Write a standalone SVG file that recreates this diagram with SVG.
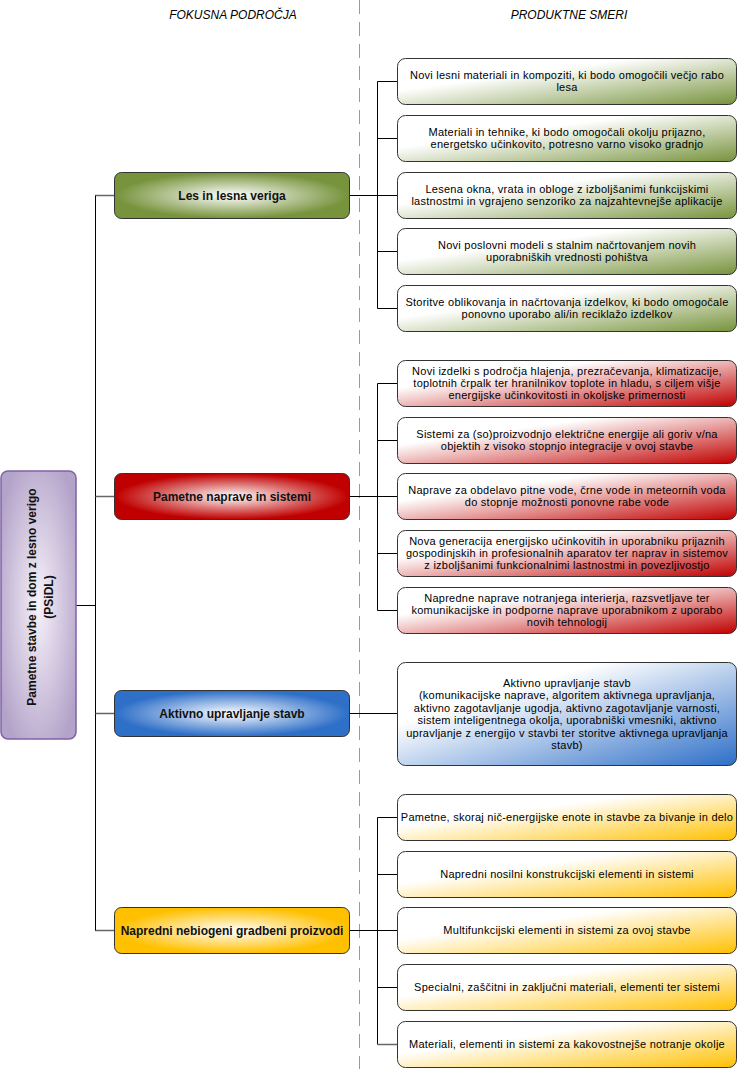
<svg xmlns="http://www.w3.org/2000/svg" width="738" height="1069" viewBox="0 0 738 1069">
<defs>
<radialGradient id="rgGreen" cx="0.5" cy="0.5" r="0.55"><stop offset="0" stop-color="#ffffff"/><stop offset="0.9" stop-color="#77933c"/></radialGradient>
<radialGradient id="rgRed" cx="0.5" cy="0.5" r="0.55"><stop offset="0" stop-color="#ffffff"/><stop offset="0.9" stop-color="#c00000"/></radialGradient>
<radialGradient id="rgBlue" cx="0.5" cy="0.5" r="0.55"><stop offset="0" stop-color="#ffffff"/><stop offset="0.9" stop-color="#2e6fc8"/></radialGradient>
<radialGradient id="rgYellow" cx="0.5" cy="0.5" r="0.55"><stop offset="0" stop-color="#ffffff"/><stop offset="0.9" stop-color="#ffc000"/></radialGradient>
<radialGradient id="rgPurple" cx="0.5" cy="0.5" r="0.6"><stop offset="0" stop-color="#f6f2fa"/><stop offset="1" stop-color="#b4a3c9"/></radialGradient>
<linearGradient id="lgGreen" x1="0" y1="0" x2="1" y2="1"><stop offset="0" stop-color="#ffffff"/><stop offset="0.35" stop-color="#ffffff"/><stop offset="1" stop-color="#77933c"/></linearGradient>
<linearGradient id="lgRed" x1="0" y1="0" x2="1" y2="1"><stop offset="0" stop-color="#ffffff"/><stop offset="0.3" stop-color="#ffffff"/><stop offset="1" stop-color="#c00000"/></linearGradient>
<linearGradient id="lgBlue" x1="0" y1="0" x2="1" y2="1"><stop offset="0" stop-color="#ffffff"/><stop offset="0.3" stop-color="#ffffff"/><stop offset="1" stop-color="#2e6fc8"/></linearGradient>
<linearGradient id="lgYellow" x1="0" y1="0" x2="1" y2="1"><stop offset="0" stop-color="#ffffff"/><stop offset="0.35" stop-color="#ffffff"/><stop offset="1" stop-color="#ffc000"/></linearGradient>
<style>
.hdr{font-family:"Liberation Sans",Arial,sans-serif;font-size:12px;font-style:italic;fill:#000;text-anchor:middle}
.mid{stroke:#333;stroke-width:1}
.box{stroke:#333;stroke-width:1}
.mt{font-family:"Liberation Sans",Arial,sans-serif;font-size:12px;font-weight:bold;fill:#111;text-anchor:middle}
.bt{font-family:"Liberation Sans",Arial,sans-serif;font-size:11px;letter-spacing:0.25px;fill:#000;text-anchor:middle}
.lt{font-family:"Liberation Sans",Arial,sans-serif;font-size:12px;font-weight:bold;fill:#111;text-anchor:middle}
.ln{stroke:#000;stroke-width:1;fill:none}
.lg{stroke:#666;stroke-width:1.5;fill:none}
.dash{stroke:#999;stroke-width:1;stroke-dasharray:14 8;fill:none}
</style>
</defs>
<rect width="738" height="1069" fill="#fff"/>
<g id="headers">
<text class="hdr" x="233" y="19">FOKUSNA PODROČJA</text>
<text class="hdr" x="569" y="19">PRODUKTNE SMERI</text>
<line class="dash" x1="359.5" y1="0" x2="359.5" y2="1069"/>
</g>
<g id="connectors">
<line class="ln" x1="76" y1="605.5" x2="95.5" y2="605.5"/>
<line class="ln" x1="95.5" y1="195" x2="95.5" y2="931"/>
<line class="lg" x1="95.5" y1="195.5" x2="114" y2="195.5"/>
<line class="lg" x1="95.5" y1="496.5" x2="114" y2="496.5"/>
<line class="lg" x1="95.5" y1="713.5" x2="114" y2="713.5"/>
<line class="lg" x1="95.5" y1="930.5" x2="114" y2="930.5"/>
<line class="ln" x1="350" y1="195.5" x2="377.5" y2="195.5"/>
<line class="ln" x1="377.5" y1="81.5" x2="377.5" y2="308.5"/>
<line class="ln" x1="377.5" y1="81.5" x2="397" y2="81.5"/>
<line class="ln" x1="377.5" y1="138.5" x2="397" y2="138.5"/>
<line class="ln" x1="377.5" y1="195.5" x2="397" y2="195.5"/>
<line class="ln" x1="377.5" y1="251.5" x2="397" y2="251.5"/>
<line class="ln" x1="377.5" y1="308.5" x2="397" y2="308.5"/>
<line class="ln" x1="350" y1="496.5" x2="377.5" y2="496.5"/>
<line class="ln" x1="377.5" y1="383.5" x2="377.5" y2="610.5"/>
<line class="ln" x1="377.5" y1="383.5" x2="397" y2="383.5"/>
<line class="ln" x1="377.5" y1="440.5" x2="397" y2="440.5"/>
<line class="ln" x1="377.5" y1="496.5" x2="397" y2="496.5"/>
<line class="ln" x1="377.5" y1="553.5" x2="397" y2="553.5"/>
<line class="ln" x1="377.5" y1="610.5" x2="397" y2="610.5"/>
<line class="ln" x1="350" y1="713.5" x2="397" y2="713.5"/>
<line class="ln" x1="350" y1="930.5" x2="377.5" y2="930.5"/>
<line class="ln" x1="377.5" y1="817.5" x2="377.5" y2="1044.5"/>
<line class="ln" x1="377.5" y1="817.5" x2="397" y2="817.5"/>
<line class="ln" x1="377.5" y1="874.5" x2="397" y2="874.5"/>
<line class="ln" x1="377.5" y1="930.5" x2="397" y2="930.5"/>
<line class="ln" x1="377.5" y1="987.5" x2="397" y2="987.5"/>
<line class="lg" x1="377.5" y1="1044.5" x2="397" y2="1044.5"/>
</g>
<g id="root">
<rect x="1" y="471" width="75" height="268" rx="7" fill="url(#rgPurple)" stroke="#8062a6" stroke-width="1.5"/>
<text class="lt" transform="translate(36,597) rotate(-90)">Pametne stavbe in dom z lesno verigo</text>
<text class="lt" transform="translate(53,597) rotate(-90)">(PSiDL)</text>
</g>
<g id="area-les">
<rect class="mid" x="114.5" y="172.5" width="235" height="46" rx="7" fill="url(#rgGreen)"/>
<text class="mt" x="232" y="199.8">Les in lesna veriga</text>
</g>
<g id="area-naprave">
<rect class="mid" x="114.5" y="473.5" width="235" height="46" rx="7" fill="url(#rgRed)"/>
<text class="mt" x="232" y="500.8">Pametne naprave in sistemi</text>
</g>
<g id="area-aktivno">
<rect class="mid" x="114.5" y="690.5" width="235" height="46" rx="7" fill="url(#rgBlue)"/>
<text class="mt" x="232" y="717.8">Aktivno upravljanje stavb</text>
</g>
<g id="area-napredni">
<rect class="mid" x="114.5" y="907.5" width="235" height="46" rx="7" fill="url(#rgYellow)"/>
<text class="mt" x="232" y="934.8">Napredni nebiogeni gradbeni proizvodi</text>
</g>
<g id="g1">
<rect class="box" x="397.5" y="58.5" width="339" height="46" rx="8" fill="url(#lgGreen)"/>
<text class="bt" x="567" y="79.3">Novi lesni materiali in kompoziti, ki bodo omogočili večjo rabo</text>
<text class="bt" x="567" y="91.3">lesa</text>
</g>
<g id="g2">
<rect class="box" x="397.5" y="115.5" width="339" height="46" rx="8" fill="url(#lgGreen)"/>
<text class="bt" x="567" y="136.3">Materiali in tehnike, ki bodo omogočali okolju prijazno,</text>
<text class="bt" x="567" y="148.3">energetsko učinkovito, potresno varno visoko gradnjo</text>
</g>
<g id="g3">
<rect class="box" x="397.5" y="172.5" width="339" height="46" rx="8" fill="url(#lgGreen)"/>
<text class="bt" x="567" y="193.3">Lesena okna, vrata in obloge z izboljšanimi funkcijskimi</text>
<text class="bt" x="567" y="205.3">lastnostmi in vgrajeno senzoriko za najzahtevnejše aplikacije</text>
</g>
<g id="g4">
<rect class="box" x="397.5" y="228.5" width="339" height="46" rx="8" fill="url(#lgGreen)"/>
<text class="bt" x="567" y="249.3">Novi poslovni modeli s stalnim načrtovanjem novih</text>
<text class="bt" x="567" y="261.3">uporabniških vrednosti pohištva</text>
</g>
<g id="g5">
<rect class="box" x="397.5" y="285.5" width="339" height="46" rx="8" fill="url(#lgGreen)"/>
<text class="bt" x="567" y="306.3">Storitve oblikovanja in načrtovanja izdelkov, ki bodo omogočale</text>
<text class="bt" x="567" y="318.3">ponovno uporabo ali/in reciklažo izdelkov</text>
</g>
<g id="r1">
<rect class="box" x="397.5" y="360.5" width="339" height="46" rx="8" fill="url(#lgRed)"/>
<text class="bt" x="567" y="375.3">Novi izdelki s področja hlajenja, prezračevanja, klimatizacije,</text>
<text class="bt" x="567" y="387.3">toplotnih črpalk ter hranilnikov toplote in hladu, s ciljem višje</text>
<text class="bt" x="567" y="399.3">energijske učinkovitosti in okoljske primernosti</text>
</g>
<g id="r2">
<rect class="box" x="397.5" y="417.5" width="339" height="46" rx="8" fill="url(#lgRed)"/>
<text class="bt" x="567" y="438.3">Sistemi za (so)proizvodnjo električne energije ali goriv v/na</text>
<text class="bt" x="567" y="450.3">objektih z visoko stopnjo integracije v ovoj stavbe</text>
</g>
<g id="r3">
<rect class="box" x="397.5" y="473.5" width="339" height="46" rx="8" fill="url(#lgRed)"/>
<text class="bt" x="567" y="494.3">Naprave za obdelavo pitne vode, črne vode in meteornih voda</text>
<text class="bt" x="567" y="506.3">do stopnje možnosti ponovne rabe vode</text>
</g>
<g id="r4">
<rect class="box" x="397.5" y="530.5" width="339" height="46" rx="8" fill="url(#lgRed)"/>
<text class="bt" x="567" y="545.3">Nova generacija energijsko učinkovitih in uporabniku prijaznih</text>
<text class="bt" x="567" y="557.3">gospodinjskih in profesionalnih aparatov ter naprav in sistemov</text>
<text class="bt" x="567" y="569.3">z izboljšanimi funkcionalnimi lastnostmi in povezljivostjo</text>
</g>
<g id="r5">
<rect class="box" x="397.5" y="587.5" width="339" height="46" rx="8" fill="url(#lgRed)"/>
<text class="bt" x="567" y="602.3">Napredne naprave notranjega interierja, razsvetljave ter</text>
<text class="bt" x="567" y="614.3">komunikacijske in podporne naprave uporabnikom z uporabo</text>
<text class="bt" x="567" y="626.3">novih tehnologij</text>
</g>
<g id="b1">
<rect class="box" x="397.5" y="662.5" width="339" height="103" rx="8" fill="url(#lgBlue)"/>
<text class="bt" x="567" y="686.5">Aktivno upravljanje stavb</text>
<text class="bt" x="567" y="699">(komunikacijske naprave, algoritem aktivnega upravljanja,</text>
<text class="bt" x="567" y="711.5">aktivno zagotavljanje ugodja, aktivno zagotavljanje varnosti,</text>
<text class="bt" x="567" y="724">sistem inteligentnega okolja, uporabniški vmesniki, aktivno</text>
<text class="bt" x="567" y="736.5">upravljanje z energijo v stavbi ter storitve aktivnega upravljanja</text>
<text class="bt" x="567" y="749">stavb)</text>
</g>
<g id="y1">
<rect class="box" x="397.5" y="794.5" width="339" height="46" rx="8" fill="url(#lgYellow)"/>
<text class="bt" x="567" y="821.3">Pametne, skoraj nič-energijske enote in stavbe za bivanje in delo</text>
</g>
<g id="y2">
<rect class="box" x="397.5" y="851.5" width="339" height="46" rx="8" fill="url(#lgYellow)"/>
<text class="bt" x="567" y="878.3">Napredni nosilni konstrukcijski elementi in sistemi</text>
</g>
<g id="y3">
<rect class="box" x="397.5" y="907.5" width="339" height="46" rx="8" fill="url(#lgYellow)"/>
<text class="bt" x="567" y="934.3">Multifunkcijski elementi in sistemi za ovoj stavbe</text>
</g>
<g id="y4">
<rect class="box" x="397.5" y="964.5" width="339" height="46" rx="8" fill="url(#lgYellow)"/>
<text class="bt" x="567" y="991.3">Specialni, zaščitni in zaključni materiali, elementi ter sistemi</text>
</g>
<g id="y5">
<rect class="box" x="397.5" y="1021.5" width="339" height="46" rx="8" fill="url(#lgYellow)"/>
<text class="bt" x="567" y="1048.3">Materiali, elementi in sistemi za kakovostnejše notranje okolje</text>
</g>
</svg>
